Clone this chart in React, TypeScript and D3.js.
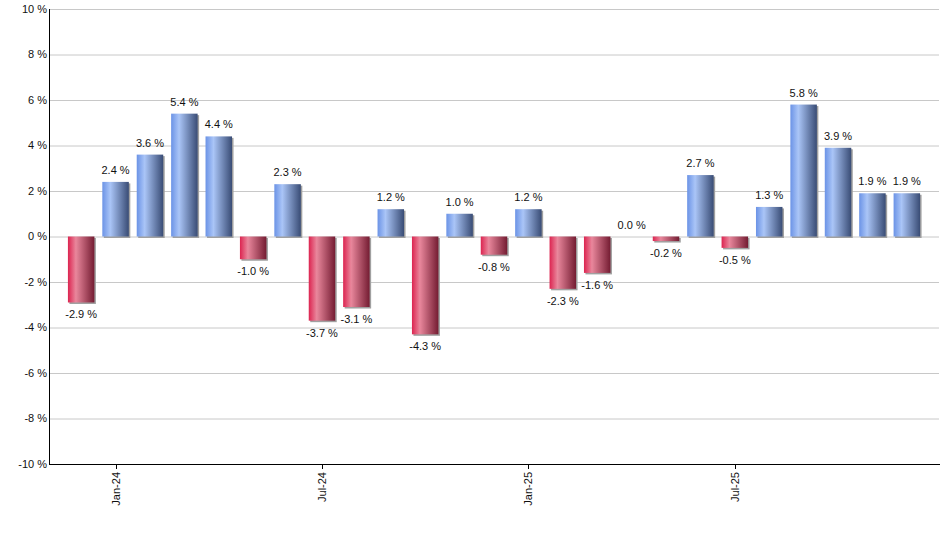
import { useRef, useEffect } from 'react';
import * as d3 from 'd3';

// Monthly returns, Dec-23 .. Dec-25
const months = [
  'Dec-23', 'Jan-24', 'Feb-24', 'Mar-24', 'Apr-24', 'May-24', 'Jun-24',
  'Jul-24', 'Aug-24', 'Sep-24', 'Oct-24', 'Nov-24', 'Dec-24',
  'Jan-25', 'Feb-25', 'Mar-25', 'Apr-25', 'May-25', 'Jun-25',
  'Jul-25', 'Aug-25', 'Sep-25', 'Oct-25', 'Nov-25', 'Dec-25',
];
const returns = [
  -2.9, 2.4, 3.6, 5.4, 4.4, -1.0, 2.3,
  -3.7, -3.1, 1.2, -4.3, 1.0, -0.8,
  1.2, -2.3, -1.6, 0.0, -0.2, 2.7,
  -0.5, 1.3, 5.8, 3.9, 1.9, 1.9,
];
const tickMonths = ['Jan-24', 'Jul-24', 'Jan-25', 'Jul-25'];
const yTicks = [-10, -8, -6, -4, -2, 0, 2, 4, 6, 8, 10];

const W = 940;
const H = 550;
const left = 49;
const right = 939;
const top = 9;
const bottom = 464;

export default function App() {
  const svgRef = useRef<SVGSVGElement>(null);

  useEffect(() => {
    if (!svgRef.current) return;
    const svg = d3.select(svgRef.current);
    svg.selectAll('*').remove();

    const x = d3.scaleBand<string>()
      .domain(months)
      .range([left, right])
      .paddingInner(0.23)
      .paddingOuter(0.55);
    const y = d3.scaleLinear().domain([-10, 10]).range([bottom, top]);

    const defs = svg.append('defs');
    const grad = (id: string, stops: [number, string][]) => {
      const g = defs.append('linearGradient')
        .attr('id', id).attr('x1', '0%').attr('x2', '100%').attr('y1', '0%').attr('y2', '0%');
      stops.forEach(([o, c]) => g.append('stop').attr('offset', `${o}%`).attr('stop-color', c));
    };
    grad('gBlue', [[0, '#6b93e6'], [30, '#aac5f7'], [100, '#394c75']]);
    grad('gRed', [[0, '#dc2450'], [30, '#e9879c'], [100, '#741c32']]);

    const font = '"Liberation Sans", Arial, sans-serif';

    // grid
    svg.append('g')
      .selectAll('line')
      .data(yTicks.filter(t => t !== -10))
      .join('line')
      .attr('x1', left).attr('x2', right)
      .attr('y1', d => y(d) + 0.5).attr('y2', d => y(d) + 0.5)
      .attr('stroke', '#c8c8c8')
      .attr('stroke-width', 1);

    // y labels
    svg.append('g')
      .selectAll('text')
      .data(yTicks)
      .join('text')
      .attr('x', left - 2)
      .attr('y', d => y(d))
      .attr('dy', '0.35em')
      .attr('text-anchor', 'end')
      .attr('font-family', font)
      .attr('font-size', 11)
      .attr('fill', '#111')
      .text(d => `${d} %`);

    const bw = x.bandwidth();
    const bars = returns.map((v, i) => ({ m: months[i], v }));

    // bar shadows
    svg.append('g')
      .selectAll('rect')
      .data(bars.filter(d => d.v !== 0))
      .join('rect')
      .attr('x', d => (x(d.m) ?? 0) + 1.5)
      .attr('y', d => Math.min(y(d.v), y(0)) + 1.5)
      .attr('width', bw)
      .attr('height', d => Math.abs(y(d.v) - y(0)))
      .attr('fill', '#a0a0a0');

    // bars
    svg.append('g')
      .selectAll('rect')
      .data(bars.filter(d => d.v !== 0))
      .join('rect')
      .attr('x', d => x(d.m) ?? 0)
      .attr('y', d => Math.min(y(d.v), y(0)))
      .attr('width', bw)
      .attr('height', d => Math.abs(y(d.v) - y(0)))
      .attr('fill', d => (d.v >= 0 ? 'url(#gBlue)' : 'url(#gRed)'));

    // value labels
    svg.append('g')
      .selectAll('text')
      .data(bars)
      .join('text')
      .attr('x', d => (x(d.m) ?? 0) + bw / 2)
      .attr('y', d => (d.v >= 0 ? y(d.v) - 8 : y(d.v) + 16))
      .attr('text-anchor', 'middle')
      .attr('font-family', font)
      .attr('font-size', 11)
      .attr('fill', '#111')
      .text(d => `${d.v.toFixed(1)} %`);

    // axes lines
    svg.append('line')
      .attr('x1', left + 0.5).attr('x2', left + 0.5)
      .attr('y1', top).attr('y2', bottom + 0.5)
      .attr('stroke', '#000');
    svg.append('line')
      .attr('x1', left).attr('x2', right + 1)
      .attr('y1', bottom + 0.5).attr('y2', bottom + 0.5)
      .attr('stroke', '#000');

    // x ticks
    const xt = svg.append('g')
      .selectAll('g')
      .data(tickMonths)
      .join('g')
      .attr('transform', d => `translate(${Math.round((x(d) ?? 0) + bw / 2) + 0.5},${bottom})`);
    xt.append('line').attr('y1', 0).attr('y2', 5).attr('stroke', '#000');
    xt.append('text')
      .attr('transform', 'translate(0,8) rotate(-90)')
      .attr('dy', '0.35em')
      .attr('text-anchor', 'end')
      .attr('font-family', font)
      .attr('font-size', 11)
      .attr('fill', '#111')
      .text(d => d);
  }, []);

  return (
    <div style={{ position: 'absolute', left: 0, top: 0 }}>
      <svg ref={svgRef} width={W} height={H} style={{ display: 'block', background: '#fff' }} />
    </div>
  );
}
